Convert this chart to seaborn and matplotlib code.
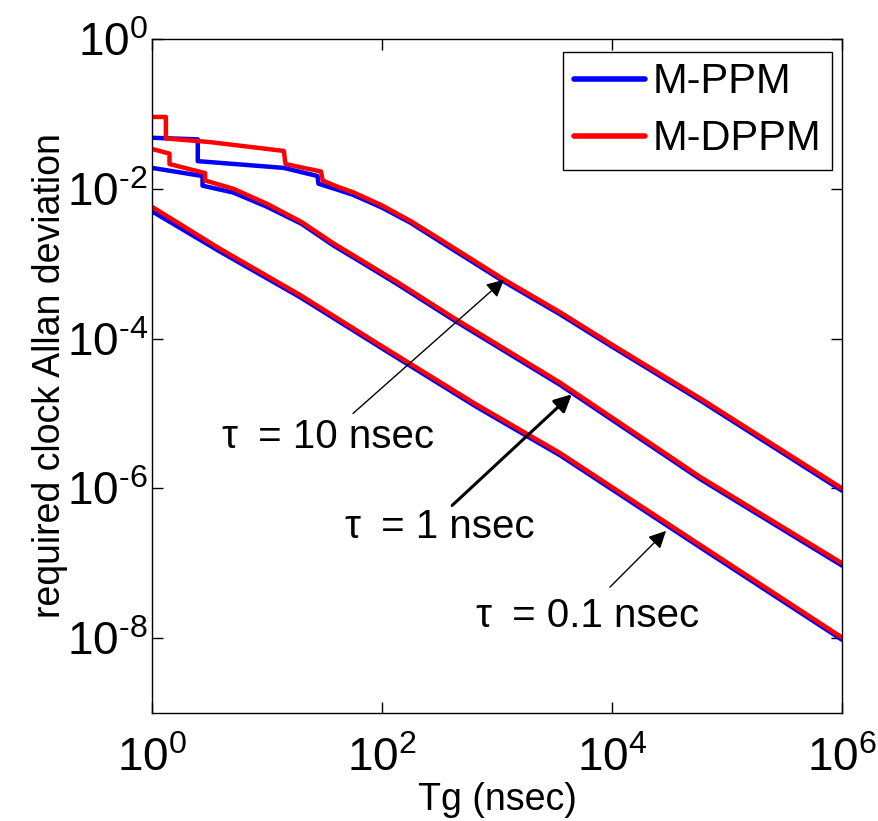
import numpy as np
import pandas as pd
import matplotlib
matplotlib.use("Agg")
import matplotlib.pyplot as plt
import seaborn as sns
from matplotlib.lines import Line2D

# Tg (nsec) and required clock Allan deviation
# tau = 0.1 nsec
tg_01 = [1, 3.9, 19.5, 100, 660, 3550, 58900, 1e6]
ppm_01 = [5.0e-3, 1.45e-3, 3.55e-4, 7.4e-5, 1.23e-5, 2.75e-6, 1.62e-7, 9.5e-9]
dppm_01 = [5.75e-3, 1.58e-3, 3.8e-4, 7.9e-5, 1.32e-5, 2.95e-6, 1.74e-7, 1.02e-8]

# tau = 1 nsec
tg_1_ppm = [1, 2.75, 2.75, 5.1, 10, 20, 38, 75, 138, 417, 3550, 58900, 1e6]
ppm_1 = [0.019, 0.0148, 0.011, 8.9e-3, 5.75e-3, 3.4e-3, 1.74e-3, 9.3e-4, 5.25e-4, 1.78e-4,
         2.4e-5, 1.32e-6, 9.3e-8]
tg_1_dppm = [1, 1.42, 1.42, 2.9, 2.9, 5.1, 10, 20, 38, 75, 138, 417, 3550, 58900, 1e6]
dppm_1 = [0.034, 0.0295, 0.0214, 0.0162, 0.0129, 0.010, 6.3e-3, 3.6e-3, 1.86e-3, 9.9e-4,
          5.6e-4, 1.9e-4, 2.57e-5, 1.41e-6, 1.0e-7]

# tau = 10 nsec
tg_10_ppm = [1, 2.5, 2.5, 14, 27.5, 28, 42, 56, 100, 178, 316, 1120, 3550, 10000, 58900, 1e6]
ppm_10 = [0.048, 0.0457, 0.0234, 0.019, 0.0148, 0.0117, 9.6e-3, 8.3e-3, 5.6e-3, 3.5e-3,
          2.0e-3, 5.9e-4, 2.1e-4, 7.8e-5, 1.48e-5, 9.3e-7]
tg_10_dppm = [1, 1.32, 1.32, 3.2, 14, 14.5, 29.5, 30.5, 42, 56, 100, 178, 316, 1120, 3550,
              10000, 58900, 1e6]
dppm_10 = [0.091, 0.091, 0.047, 0.042, 0.032, 0.0214, 0.017, 0.0129, 0.0105, 9.0e-3, 6.0e-3,
           3.7e-3, 2.14e-3, 6.3e-4, 2.24e-4, 8.3e-5, 1.58e-5, 1.0e-6]

schemes = ["M-PPM", "M-DPPM"]
colors = ["#0000ff", "#ff0000"]

x_ticks = [1, 1e2, 1e4, 1e6]
x_exp = ["0", "2", "4", "6"]
y_ticks = [1e-8, 1e-6, 1e-4, 1e-2, 1]
y_exp = ["\u20108", "\u20106", "\u20104", "\u20102", "0"]

# annotation labels, arrow tails and tips (Tg, deviation)
ann_text = ["\u03c4\u2002= 10 nsec", "\u03c4\u2002= 1 nsec", "\u03c4\u2002= 0.1 nsec"]
ann_text_pos = [(4.06, 4.8e-6), (48, 3.0e-7), (660, 2.0e-8)]
ann_tail = [(56, 1.0e-5), (407, 5.9e-7), (9600, 4.8e-8)]
ann_tip = [(1150, 6.1e-4), (4470, 1.8e-5), (29500, 2.7e-7)]
ann_lw = [1.0, 2.2, 1.0]

rows = []
for tau, tg, vals, sch in [
    ("0.1", tg_01, ppm_01, "M-PPM"),
    ("1", tg_1_ppm, ppm_1, "M-PPM"),
    ("10", tg_10_ppm, ppm_10, "M-PPM"),
    ("0.1", tg_01, dppm_01, "M-DPPM"),
    ("1", tg_1_dppm, dppm_1, "M-DPPM"),
    ("10", tg_10_dppm, dppm_10, "M-DPPM"),
]:
    for t, v in zip(tg, vals):
        rows.append({"Tg": t, "dev": v, "scheme": sch, "tau": tau})
df = pd.DataFrame(rows)

sns.set_style("ticks")
plt.rcParams["font.family"] = ["Liberation Sans", "DejaVu Sans"]
plt.rcParams["mathtext.fontset"] = "custom"
plt.rcParams["mathtext.rm"] = "Liberation Sans"
plt.rcParams["mathtext.it"] = "Liberation Sans"
plt.rcParams["xtick.direction"] = "in"
plt.rcParams["ytick.direction"] = "in"
for k in ["text.color", "axes.labelcolor", "xtick.color", "ytick.color", "axes.edgecolor"]:
    plt.rcParams[k] = "black"

fig = plt.figure(figsize=(8.79, 8.21), dpi=100)
ax = fig.add_axes([152 / 879, 1 - 713 / 821, 690 / 879, 674 / 821])

sns.lineplot(data=df, x="Tg", y="dev", hue="scheme", units="tau", estimator=None,
             sort=False, hue_order=schemes, palette=colors, lw=3.2, legend=False, ax=ax)

ax.set_xscale("log")
ax.set_yscale("log")
ax.set_xlim(1, 1e6)
ax.set_ylim(1e-9, 1)

ax.set_xticks(x_ticks)
ax.set_xticklabels(["$\\mathregular{10^{%s}}$" % e for e in x_exp])
ax.set_yticks(y_ticks)
ax.set_yticklabels(["$\\mathregular{10^{%s}}$" % e for e in y_exp])
ax.minorticks_off()
ax.tick_params(which="major", length=8, width=1, top=True, right=True, labelsize=33)
ax.tick_params(axis="x", pad=17)
ax.tick_params(axis="y", pad=3)
for s in ax.spines.values():
    s.set_visible(True)
    s.set_linewidth(1.0)

ax.set_xlabel("Tg (nsec)", fontsize=27, labelpad=1)
ax.set_ylabel("required clock Allan deviation", fontsize=27)
ax.yaxis.set_label_coords(-0.122, 0.5)

for txt, tpos, tail, tip, lw in zip(ann_text, ann_text_pos, ann_tail, ann_tip, ann_lw):
    ax.annotate("", xy=tip, xytext=tail,
                arrowprops=dict(arrowstyle="-|>", color="black", lw=lw,
                                mutation_scale=26, shrinkA=0, shrinkB=0))
    ax.text(tpos[0], tpos[1], txt, fontsize=29, ha="left", va="center")

handles = [Line2D([0], [0], color=c, lw=4) for c in colors]
leg = ax.legend(handles, schemes, loc="upper right", bbox_to_anchor=(0.9855, 0.9807),
                borderaxespad=0, fontsize=30, handlelength=1.7, handletextpad=0.2,
                labelspacing=0.4, borderpad=0.25, fancybox=False, framealpha=1)
leg.get_frame().set_edgecolor("black")
leg.get_frame().set_linewidth(1.0)

fig.savefig("out.png", dpi=100)
